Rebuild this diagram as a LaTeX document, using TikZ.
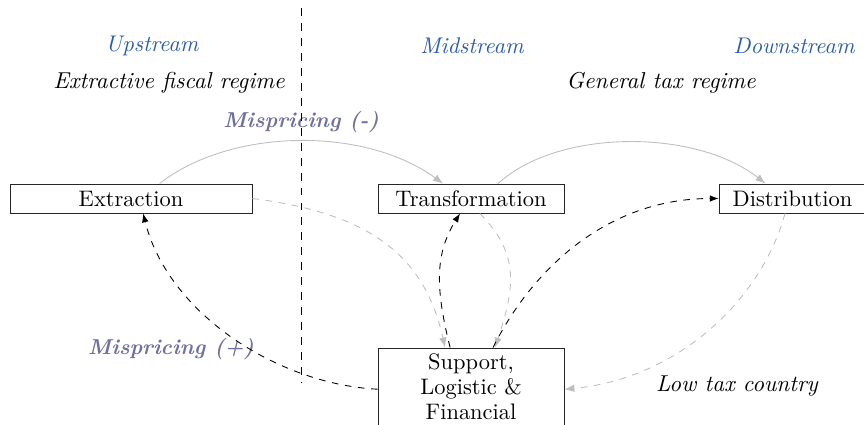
\documentclass[tikz,border=0pt]{standalone}
\usetikzlibrary{arrows.meta}
\definecolor{stagecol}{RGB}{42,92,170}
\definecolor{mispcol}{RGB}{112,112,158}
\definecolor{flowgray}{RGB}{190,190,190}
\begin{document}
\begin{tikzpicture}[x=0.4545pt,y=-0.4545pt,
  stagebox/.style={draw=black!85,minimum height=13.2pt,inner sep=0pt,
    font=\fontsize{10.2pt}{11.4pt}\selectfont},
  stagelabel/.style={text=stagecol,font=\fontsize{10.3pt}{12pt}\selectfont\itshape},
  regimelabel/.style={font=\fontsize{10.45pt}{12pt}\selectfont\itshape},
  misplabel/.style={text=mispcol,font=\fontsize{9.8pt}{12pt}\selectfont\bfseries\itshape},
  goods/.style={flowgray,-{Latex[length=4.5pt,width=3.4pt]}},
  hidden/.style={flowgray,dashed,-{Latex[length=4.5pt,width=3.4pt]}},
  service/.style={black,dashed,-{Latex[length=4pt,width=3pt]}}]
\useasboundingbox (0,0) rectangle (864,424);

% stage headings
\node[stagelabel] (up)   at (152,46) {Upstream};
\node[stagelabel] (mid)  at (472,46) {Midstream};
\node[stagelabel] (down) at (794,46) {Downstream};

% tax regimes
\node[regimelabel] (extreg) at (169,83) {Extractive fiscal regime};
\node[regimelabel] (genreg) at (661,83) {General tax regime};
\node[regimelabel] (lowtax) at (737,386) {Low tax country};

% mispricing labels
\node[misplabel] (mminus) at (301,122) {Mispricing (-)};
\node[misplabel] (mplus)  at (171,349) {Mispricing (+)};

% value chain stages
\node[stagebox,minimum width=110pt] (ext) at (131,198.5) {Extraction};
\node[stagebox,minimum width=84.5pt] (tra) at (471,198.5) {Transformation};
\node[stagebox,minimum width=66.8pt] (dis) at (792.5,198.5) {Distribution};
\node[stagebox,minimum width=84.5pt,minimum height=35.5pt,align=center] (sup) at (471,387)
  {Support,\\Logistic \&\\Financial};

% border between the fiscal regimes
\draw[dashed,dash pattern=on 3.6pt off 3.2pt] (301,8) -- (301,383);

% physical flows
\draw[goods] ([xshift=13pt]ext.north) .. controls +(70,-55) and +(-80,-58) .. ([xshift=-12.7pt]tra.north);
\draw[goods] ([xshift=12.3pt]tra.north) .. controls +(60,-55) and +(-70,-55) .. ([xshift=-12.3pt]dis.north);

% flows towards the support entity
\draw[hidden] (ext.east) .. controls +(120,15) and +(-20,-90) .. ([xshift=-11.8pt]sup.north);
\draw[hidden] ([xshift=4pt]tra.south) .. controls +(40,40) and +(20,-60) .. ([xshift=10.9pt]sup.north);
\draw[hidden] ([xshift=-3.4pt]dis.south) .. controls +(-25,90) and +(110,-10) .. ([yshift=-1pt]sup.east);

% services provided by the support entity
\draw[service] ([xshift=-9.5pt]sup.north) .. controls +(-15,-60) and +(-25,40) .. ([xshift=-5pt]tra.south);
\draw[service] ([xshift=10pt]sup.north) .. controls +(40,-80) and +(-110,0) .. (dis.west);
\draw[service] ([yshift=-1pt]sup.west) .. controls +(-100,-5) and +(25,100) .. ([xshift=5.5pt]ext.south);
\end{tikzpicture}
\end{document}
